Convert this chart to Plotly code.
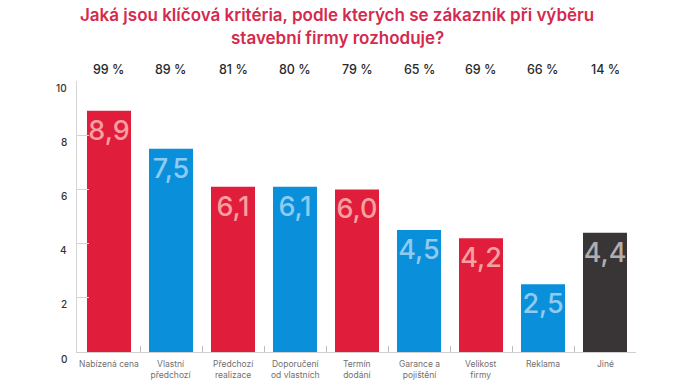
import plotly.graph_objects as go

categories = ["Nabízená cena", "Vlastní<br>předchozí<br>zkušenost", "Předchozí<br>realizace",
              "Doporučení<br>od vlastních<br>známých", "Termín<br>dodání", "Garance a<br>pojištění",
              "Velikost<br>firmy", "Reklama", "Jiné"]
values = [8.9, 7.5, 6.1, 6.1, 6.0, 4.5, 4.2, 2.5, 4.4]
percents = ["99 %", "89 %", "81 %", "80 %", "79 %", "65 %", "69 %", "66 %", "14 %"]
bar_colors = ["#E01E3C", "#0A90DA", "#E01E3C", "#0A90DA", "#E01E3C", "#0A90DA", "#E01E3C", "#0A90DA", "#393536"]
text_colors = ["#F7A0A0", "#8FCBF0", "#F7A0A0", "#8FCBF0", "#F7A0A0", "#8FCBF0", "#F7A0A0", "#8FCBF0", "#AFAFAF"]
y_ticks = [0, 2, 4, 6, 8, 10]
title_lines = ["Jaká jsou klíčová kritéria, podle kterých se zákazník při výběru",
               "stavební firmy rozhoduje?"]

labels = [f"{v:.1f}".replace(".", ",") for v in values]

fig = go.Figure(go.Bar(
    x=categories, y=values, marker=dict(color=bar_colors, line=dict(width=0)),
    text=labels, textposition="inside", insidetextanchor="end", textangle=0,
    textfont=dict(size=27, color=text_colors, family="Inter", weight=500),
    constraintext="none", cliponaxis=False,
))

for c, p in zip(categories, percents):
    fig.add_annotation(x=c, xref="x", y=1.042, yref="paper", text=p, showarrow=False,
                       font=dict(size=12.5, color="#2a2a2a", family="Inter", weight=500),
                       yanchor="middle")
    fig.add_annotation(x=c, xref="x", y=0, yref="y", text=c, showarrow=False,
                       yanchor="top", yshift=-5,
                       font=dict(size=8.5, color="#707070", family="Inter"))

for t in y_ticks:
    fig.add_annotation(x=0, xref="paper", y=t, yref="y", text=str(t), showarrow=False,
                       xanchor="right", yanchor="middle", xshift=-8, yshift=-6.5,
                       font=dict(size=10, color="#333333", family="Inter", weight=500))

for ty, line in zip([1.244, 1.159], title_lines):
    fig.add_annotation(x=0.466, xref="paper", y=ty, yref="paper", text=line, showarrow=False,
                       xanchor="center", yanchor="middle",
                       font=dict(size=17, color="#D42A4E", family="Inter", weight=600))

fig.update_layout(
    width=674, height=380,
    margin=dict(l=77, r=38, t=81, b=28),
    paper_bgcolor="white", plot_bgcolor="white",
    bargap=0.29, showlegend=False,
    font=dict(family="Inter"),
)
fig.update_xaxes(showline=True, linecolor="#cfcfcf", linewidth=1, ticks="inside", ticklen=6,
                 tickcolor="#bdbdbd", tickson="boundaries", automargin=False,
                 showticklabels=False, showgrid=False)
fig.update_yaxes(range=[0, 10], tickvals=y_ticks, showline=True, linecolor="#d5d5d5", linewidth=1,
                 ticks="inside", ticklen=12, tickcolor="#d5d5d5", showgrid=False, zeroline=False,
                 showticklabels=False, automargin=False)

fig.write_html("out.html", config={"displayModeBar": False},
               post_script="document.body.style.margin='0px';")
